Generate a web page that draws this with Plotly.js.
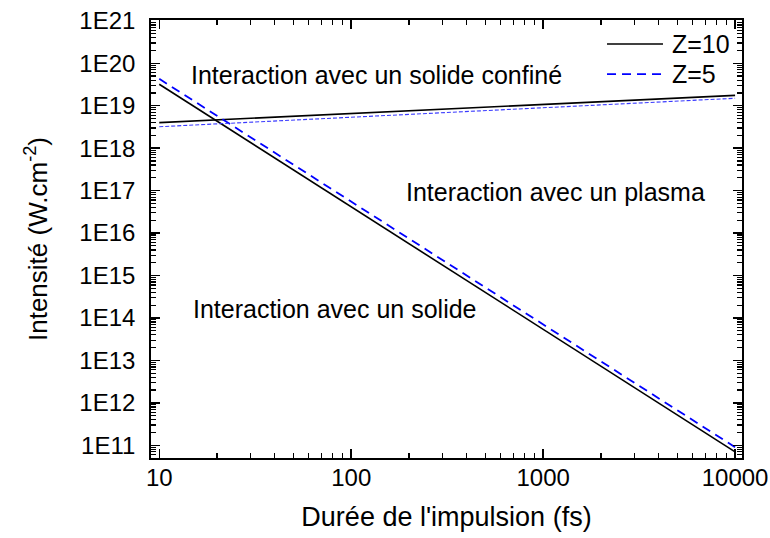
<!DOCTYPE html>
<html>
<head>
<meta charset="utf-8">
<script src="https://cdn.plot.ly/plotly-3.0.1.min.js"></script>
<style>html,body{margin:0;padding:0;background:#fff;}</style>
</head>
<body>
<div id="chart" style="width:770px;height:538px;"></div>
<script>
// Pulse duration (fs) at the two ends of each line
const duree = [10, 10000];
// Z=10 : limit solid / plasma (descending) and confined-solid limit (rising)
const z10_solide = [3.2e19, 7.0e10];
const z10_confine = [4.0e18, 1.75e19];
// Z=5
const z5_solide = [4.3e19, 9.0e10];
const z5_confine = [3.2e18, 1.5e19];

const seriesNames = ['Z=10', 'Z=5'];

const xTickVals = [10, 100, 1000, 10000];
const xTickText = ['10', '100', '1000', '10000'];
const yTickVals = [1e11, 1e12, 1e13, 1e14, 1e15, 1e16, 1e17, 1e18, 1e19, 1e20, 1e21];
const yTickText = ['1E11', '1E12', '1E13', '1E14', '1E15', '1E16', '1E17', '1E18', '1E19', '1E20', '1E21'];

const FONT = 'Liberation Sans, Arial, Helvetica, sans-serif';

const styleZ10 = {color: '#000000', width: 1.6};
const styleZ5 = {color: '#0000ff', width: 1.8, dash: '9px,6px'};

const traces = [
  {x: duree, y: z10_solide, mode: 'lines', name: seriesNames[0], showlegend: false, line: styleZ10},
  {x: duree, y: z10_confine, mode: 'lines', name: seriesNames[0], showlegend: false, line: styleZ10},
  {x: duree, y: z5_solide, mode: 'lines', name: seriesNames[1], showlegend: false, line: styleZ5},
  {x: duree, y: z5_confine, mode: 'lines', name: seriesNames[1], showlegend: false,
   line: {color: '#3a3aff', width: 1.1, dash: '4px,2px'}}
];

const axisCommon = {
  showline: true, linecolor: '#000', linewidth: 1.8, mirror: 'allticks',
  ticks: 'inside', tickcolor: '#000', tickwidth: 1.5, ticklen: 9,
  showgrid: false, zeroline: false,
  tickfont: {family: FONT, size: 24, color: '#000'},
  minor: {ticks: 'inside', ticklen: 5, tickcolor: '#000', tickwidth: 1.2, dtick: 'D1', showgrid: false}
};

// legend built in paper space (sample lines + labels)
const legX0 = 0.7716, legX1 = 0.8663, legTextX = 0.878;
const legY = [0.9452, 0.8766];

const layout = {
  width: 770, height: 538,
  margin: {l: 151, r: 28, t: 20, b: 80},
  paper_bgcolor: '#fff', plot_bgcolor: '#fff',
  showlegend: false,
  font: {family: FONT, color: '#000'},
  xaxis: Object.assign({}, axisCommon, {
    type: 'log', range: [0.957, 4.036],
    tickmode: 'array', tickvals: xTickVals, ticktext: xTickText,
    ticklabelstandoff: -3,
    title: {text: "Durée de l'impulsion (fs)", font: {family: FONT, size: 27, color: '#000'}, standoff: 17}
  }),
  yaxis: Object.assign({}, axisCommon, {
    type: 'log', range: [10.70, 21.02],
    tickmode: 'array', tickvals: yTickVals, ticktext: yTickText,
    ticklabelstandoff: 9,
    title: {text: 'Intensité (W.cm<sup>-2</sup>)', font: {family: FONT, size: 26, color: '#000'}, standoff: 24}
  }),
  shapes: [
    {type: 'line', xref: 'paper', yref: 'paper', x0: legX0, x1: legX1, y0: legY[0], y1: legY[0], line: styleZ10},
    {type: 'line', xref: 'paper', yref: 'paper', x0: legX0, x1: legX1, y0: legY[1], y1: legY[1], line: styleZ5}
  ],
  annotations: [
    {xref: 'paper', yref: 'paper', x: legTextX, y: legY[0], xanchor: 'left', yanchor: 'middle', showarrow: false,
     text: seriesNames[0], font: {family: FONT, size: 25, color: '#000'}},
    {xref: 'paper', yref: 'paper', x: legTextX, y: legY[1], xanchor: 'left', yanchor: 'middle', showarrow: false,
     text: seriesNames[1], font: {family: FONT, size: 25, color: '#000'}},
    {xref: 'paper', yref: 'paper', x: 0.064, y: 0.874, xanchor: 'left', yanchor: 'middle', showarrow: false,
     text: 'Interaction avec un solide confiné', font: {family: FONT, size: 25, color: '#000'}},
    {xref: 'paper', yref: 'paper', x: 0.428, y: 0.607, xanchor: 'left', yanchor: 'middle', showarrow: false,
     text: 'Interaction avec un plasma', font: {family: FONT, size: 25, color: '#000'}},
    {xref: 'paper', yref: 'paper', x: 0.067, y: 0.34, xanchor: 'left', yanchor: 'middle', showarrow: false,
     text: 'Interaction avec un solide', font: {family: FONT, size: 25, color: '#000'}}
  ]
};

Plotly.newPlot('chart', traces, layout, {displayModeBar: false, staticPlot: true});
</script>
</body>
</html>
